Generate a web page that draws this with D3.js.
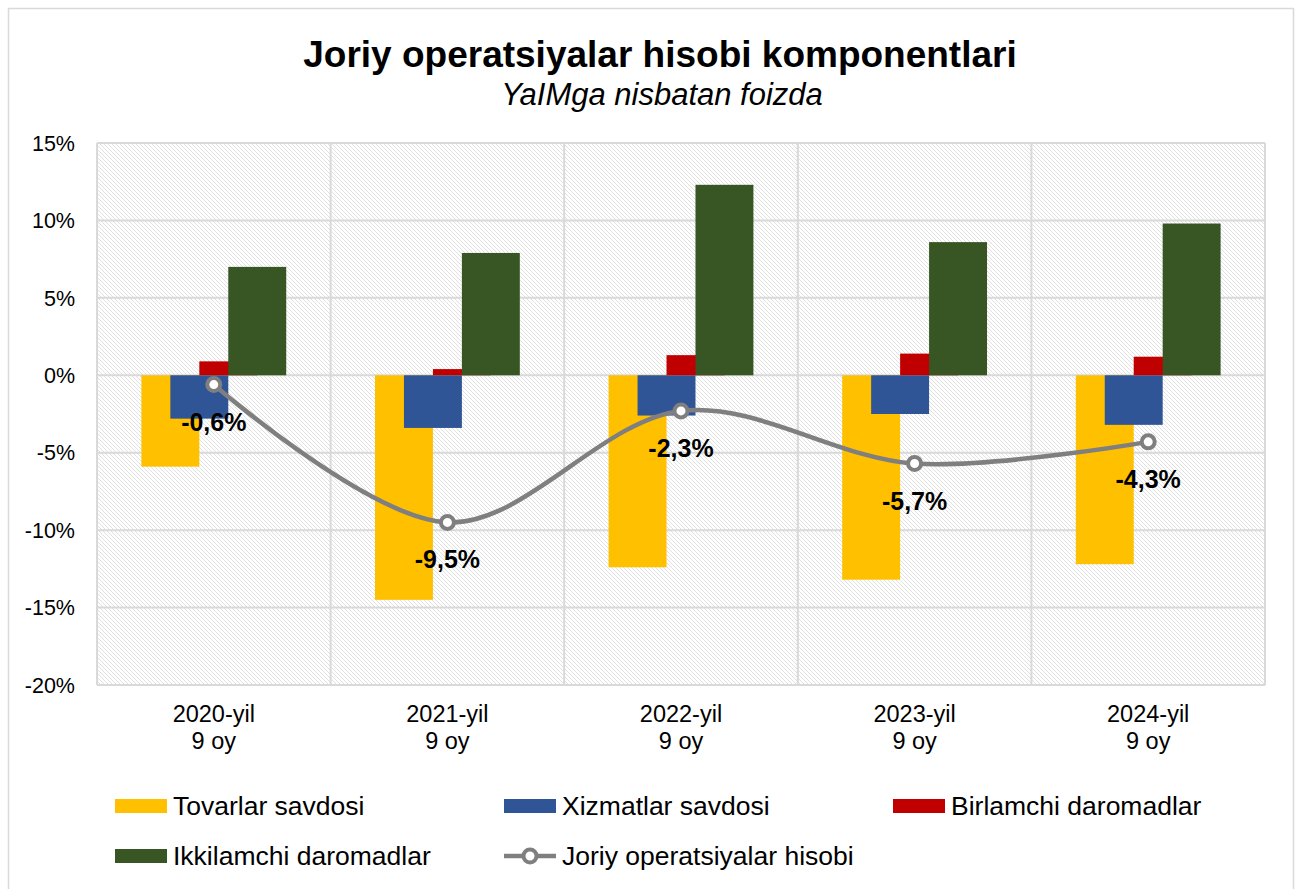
<!DOCTYPE html>
<html>
<head>
<meta charset="utf-8">
<script src="https://cdn.jsdelivr.net/npm/d3@7"></script>
<style>
  body { margin: 0; background: #fff; }
  svg text { font-family: "Liberation Sans", Arial, sans-serif; }
</style>
</head>
<body>
<div id="chart"></div>
<script>
// Data (% of GDP)
const categories = ["2020-yil|9 oy", "2021-yil|9 oy", "2022-yil|9 oy", "2023-yil|9 oy", "2024-yil|9 oy"];
const seriesNames = ["Tovarlar savdosi", "Xizmatlar savdosi", "Birlamchi daromadlar", "Ikkilamchi daromadlar"];
const goods = [-5.9, -14.5, -12.4, -13.2, -12.2];
const services = [-2.8, -3.4, -2.6, -2.5, -3.2];
const primaryIncome = [0.9, 0.4, 1.3, 1.4, 1.2];
const secondaryIncome = [7.0, 7.9, 12.3, 8.6, 9.8];
const currentAccount = [-0.6, -9.5, -2.3, -5.7, -4.3];
const lineName = "Joriy operatsiyalar hisobi";
const yTicks = [-20, -15, -10, -5, 0, 5, 10, 15];

const colors = ["#ffc000", "#2f5597", "#c00000", "#375623"];
const lineColor = "#7f7f7f";

const width = 1300, height = 889;
const margin = { top: 143, right: 35, bottom: 204, left: 97 };

const svg = d3.select("#chart").append("svg")
    .attr("width", width)
    .attr("height", height);

// hatched background pattern
const defs = svg.append("defs");
const pat = defs.append("pattern")
    .attr("id", "hatch")
    .attr("patternUnits", "userSpaceOnUse")
    .attr("width", 4).attr("height", 4);
pat.append("rect").attr("width", 4).attr("height", 4).attr("fill", "#fff");
pat.append("path")
    .attr("d", "M-1,-1 L5,5 M-1,3 L1,5 M3,-1 L5,1")
    .attr("stroke", "#e0e0e0")
    .attr("stroke-width", 1);

// outer border
svg.append("rect")
    .attr("x", 8.5).attr("y", 8.5)
    .attr("width", 1285).attr("height", 885)
    .attr("fill", "#fff")
    .attr("stroke", "#d9d9d9")
    .attr("stroke-width", 1.5);

// title
svg.append("text")
    .attr("x", 660).attr("y", 67)
    .attr("text-anchor", "middle")
    .style("font-size", "37px")
    .style("font-weight", "bold")
    .text("Joriy operatsiyalar hisobi komponentlari");
svg.append("text")
    .attr("x", 662).attr("y", 105)
    .attr("text-anchor", "middle")
    .style("font-size", "31px")
    .style("font-style", "italic")
    .text("YaIMga nisbatan foizda");

const x0 = d3.scaleBand()
    .domain(categories)
    .range([margin.left, width - margin.right])
    .paddingInner(0).paddingOuter(0);

const y = d3.scaleLinear()
    .domain([-20, 15])
    .range([height - margin.bottom, margin.top]);

const plotW = width - margin.right - margin.left;
const plotH = height - margin.bottom - margin.top;

svg.append("rect")
    .attr("x", margin.left).attr("y", margin.top)
    .attr("width", plotW).attr("height", plotH)
    .attr("fill", "url(#hatch)");

// gridlines
svg.append("g")
    .selectAll("line.h")
    .data(yTicks)
    .enter().append("line")
    .attr("x1", margin.left).attr("x2", width - margin.right)
    .attr("y1", d => y(d)).attr("y2", d => y(d))
    .attr("stroke", "#d9d9d9").attr("stroke-width", 2);

const vlines = categories.map(c => x0(c)).concat([width - margin.right]);
svg.append("g")
    .selectAll("line.v")
    .data(vlines)
    .enter().append("line")
    .attr("x1", d => d).attr("x2", d => d)
    .attr("y1", margin.top).attr("y2", height - margin.bottom)
    .attr("stroke", "#d9d9d9").attr("stroke-width", 2);

// y axis labels
svg.append("g")
    .selectAll("text")
    .data(yTicks)
    .enter().append("text")
    .attr("x", 75)
    .attr("y", d => y(d))
    .attr("dy", "0.36em")
    .attr("text-anchor", "end")
    .style("font-size", "21.5px")
    .text(d => d + "%");

// x axis labels
const xl = svg.append("g")
    .selectAll("text")
    .data(categories)
    .enter().append("text")
    .attr("text-anchor", "middle")
    .style("font-size", "23.5px");
xl.each(function (d) {
    const parts = d.split("|");
    const t = d3.select(this);
    parts.forEach((p, i) => {
        t.append("tspan")
            .attr("x", x0(d) + x0.bandwidth() / 2)
            .attr("y", 722 + i * 27)
            .text(p);
    });
});

// bars: overlapping 50%, width ~ 58px
const bw = x0.bandwidth();
const barW = bw * 0.248;
const step = barW / 2;
const allSeries = [goods, services, primaryIncome, secondaryIncome];

allSeries.forEach((vals, si) => {
    svg.append("g")
        .selectAll("rect")
        .data(vals)
        .enter().append("rect")
        .attr("x", (d, i) => x0(categories[i]) + bw / 2 + (si - 1.5) * step - barW / 2)
        .attr("y", d => y(Math.max(0, d)))
        .attr("width", barW)
        .attr("height", d => Math.abs(y(d) - y(0)))
        .attr("fill", colors[si]);
});

// current account line
const cx = i => x0(categories[i]) + bw / 2;
const line = d3.line()
    .x((d, i) => cx(i))
    .y(d => y(d))
    .curve(d3.curveCatmullRom.alpha(0.5));

svg.append("path")
    .datum(currentAccount)
    .attr("fill", "none")
    .attr("stroke", lineColor)
    .attr("stroke-width", 4.5)
    .attr("d", line);

svg.append("g")
    .selectAll("circle")
    .data(currentAccount)
    .enter().append("circle")
    .attr("cx", (d, i) => cx(i))
    .attr("cy", d => y(d))
    .attr("r", 6.5)
    .attr("fill", "#fff")
    .attr("stroke", lineColor)
    .attr("stroke-width", 4);

svg.append("g")
    .selectAll("text")
    .data(currentAccount)
    .enter().append("text")
    .attr("x", (d, i) => cx(i))
    .attr("y", d => y(d) + 46)
    .attr("text-anchor", "middle")
    .style("font-size", "25px")
    .style("font-weight", "bold")
    .text(d => d3.format(".1f")(d).replace(".", ",").replace("−", "-") + "%");

// legend
const legendItems = [
    { name: seriesNames[0], type: "bar", color: colors[0], x: 115, y: 806 },
    { name: seriesNames[1], type: "bar", color: colors[1], x: 504, y: 806 },
    { name: seriesNames[2], type: "bar", color: colors[2], x: 893, y: 806 },
    { name: seriesNames[3], type: "bar", color: colors[3], x: 115, y: 856 },
    { name: lineName, type: "line", color: lineColor, x: 504, y: 856 }
];

const lg = svg.append("g")
    .selectAll("g")
    .data(legendItems)
    .enter().append("g")
    .attr("transform", d => `translate(${d.x},${d.y})`);

lg.filter(d => d.type === "bar").append("rect")
    .attr("x", 0).attr("y", -7)
    .attr("width", 52).attr("height", 14)
    .attr("fill", d => d.color);

lg.filter(d => d.type === "line").append("line")
    .attr("x1", 0).attr("x2", 52)
    .attr("stroke", d => d.color).attr("stroke-width", 4.5);
lg.filter(d => d.type === "line").append("circle")
    .attr("cx", 26).attr("r", 6.5)
    .attr("fill", "#fff")
    .attr("stroke", d => d.color).attr("stroke-width", 4);

lg.append("text")
    .attr("x", 58)
    .attr("y", 9)
    .style("font-size", "26.5px")
    .text(d => d.name);
</script>
</body>
</html>
